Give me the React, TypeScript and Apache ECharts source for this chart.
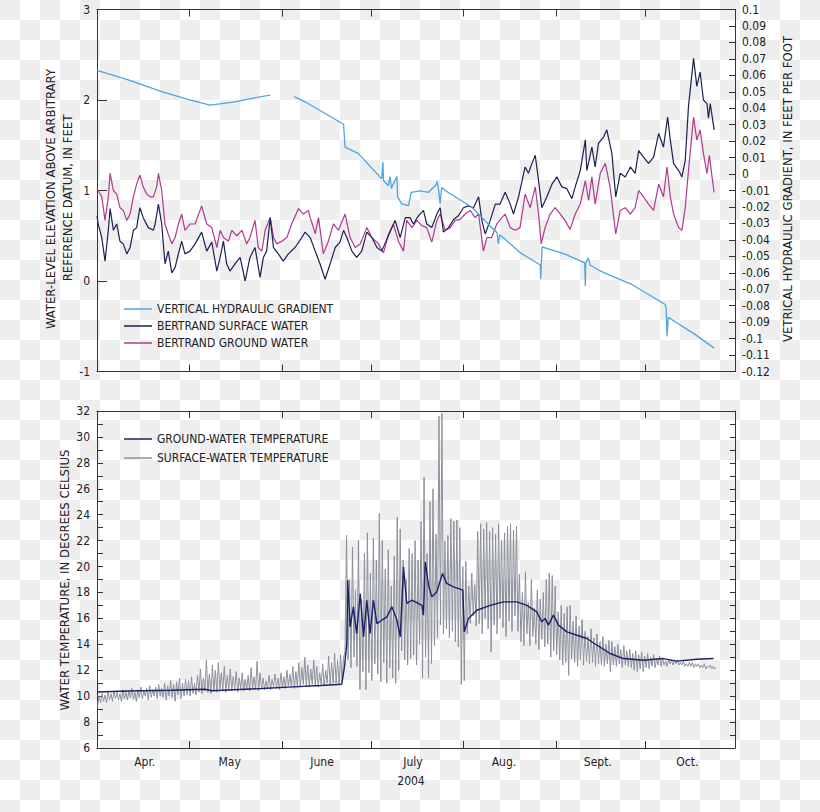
import React, { useEffect, useRef } from "react";
import * as echarts from "echarts";

const FONT = "'Liberation Sans Narrow', 'DejaVu Sans Condensed', 'Arial Narrow', Roboto, sans-serif";

// x values are days counted from 31 March 2004
const X_MIN = 0;
const X_MAX = 214;
const MONTH_TICK_DAYS = [31, 62, 92, 123, 154, 184];
const MONTH_LABEL_DAYS = [16, 44.5, 75.5, 106, 136.5, 168, 198];
const MONTH_LABELS = ["Apr.", "May", "June", "July", "Aug.", "Sept.", "Oct."];
const YEAR_LABEL = "2004";

const NAME_GRADIENT = "VERTICAL HYDRAULIC GRADIENT";
const NAME_SURFACE = "BERTRAND SURFACE WATER";
const NAME_GROUND = "BERTRAND GROUND WATER";
const NAME_GW_TEMP = "GROUND-WATER TEMPERATURE";
const NAME_SW_TEMP = "SURFACE-WATER TEMPERATURE";

// vertical hydraulic gradient, feet per foot (right axis); null = gap in record
const GRADIENT: [number, number | null][] = [
  [0, 0.063], [10.5, 0.0572], [21.7, 0.0501], [30.5, 0.0454], [37.9, 0.0419], [46.3, 0.0439],
  [51.9, 0.046], [58.1, 0.048], [62, null], [66.1, 0.047], [69.8, 0.0439], [82.7, 0.0303],
  [83.2, 0.0164], [87.7, 0.0124], [95.5, -0.0029], [95.9, 0.0073], [96.1, -0.0039], [97.7, -0.007],
  [98.3, -0.0015], [98.7, -0.0088], [100.6, -0.0015], [100.8, -0.0137], [102.2, -0.0182],
  [104.5, -0.0192], [105.4, -0.0111], [108.5, -0.0102], [111.2, -0.0111], [113.8, -0.0064],
  [114.1, -0.0045], [114.6, -0.01], [115.1, -0.018], [115.6, -0.0082], [116.8, -0.01],
  [125.7, -0.0202], [132.4, -0.0325], [134.2, -0.0357], [134.6, -0.0424], [135.1, -0.0369],
  [141.9, -0.0477], [148.7, -0.0553], [148.8, -0.0638], [149.3, -0.0443], [157.0, -0.0487],
  [163.6, -0.054], [163.8, -0.0681], [163.9, -0.0543], [164.8, -0.051], [165.4, -0.0553],
  [168.8, -0.0589], [172.7, -0.062], [179.4, -0.0671], [190.6, -0.0793], [190.9, -0.0815],
  [191.2, -0.0987], [191.6, -0.087], [200.7, -0.0976], [207.0, -0.1058],
];

// Bertrand surface water level, feet (left axis)
const SURFACE: [number, number][] = [
  [0, 0.72], [0.4, 0.63], [1.6, 0.48], [2.7, 0.22], [3.8, 0.56], [4.4, 0.8], [5.5, 0.56], [6.6, 0.63],
  [7.7, 0.44], [8.8, 0.41], [10.0, 0.3], [11.1, 0.37], [12.2, 0.56], [13.3, 0.59], [14.4, 0.81],
  [15.5, 0.7], [17.2, 0.59], [18.9, 0.56], [19.5, 0.63], [20.6, 0.85], [21.7, 0.63], [22.8, 0.19],
  [23.9, 0.33], [25.1, 0.09], [26.2, 0.15], [27.3, 0.3], [28.4, 0.44], [29.5, 0.3], [31.2, 0.33],
  [32.9, 0.41], [35.1, 0.54], [36.8, 0.33], [38.5, 0.43], [40.2, 0.11], [41.3, 0.26], [42.4, 0.44],
  [43.5, 0.19], [44.6, 0.11], [46.3, 0.19], [48.0, 0.26], [49.7, 0.0], [51.3, 0.26], [53.0, 0.37],
  [54.7, 0.04], [55.8, 0.26], [56.9, 0.33], [58.1, 0.7], [59.2, 0.37], [60.8, 0.3], [62.5, 0.22],
  [64.2, 0.3], [66.4, 0.37], [68.7, 0.48], [69.8, 0.54], [71.5, 0.48], [73.2, 0.33], [74.8, 0.19],
  [76.5, 0.02], [78.2, 0.19], [79.9, 0.37], [81.5, 0.43], [82.7, 0.56], [83.8, 0.48], [85.5, 0.33],
  [87.1, 0.26], [88.8, 0.33], [90.5, 0.54], [92.2, 0.48], [93.9, 0.37], [95.5, 0.33], [97.2, 0.46],
  [98.3, 0.54], [100.0, 0.67], [101.7, 0.48], [103.4, 0.7], [105.0, 0.7], [106.1, 0.63], [107.8, 0.72],
  [109.5, 0.78], [110.6, 0.63], [112.3, 0.59], [114.0, 0.74], [115.1, 0.81], [116.2, 0.54],
  [117.9, 0.59], [119.6, 0.68], [121.2, 0.72], [122.9, 0.81], [124.6, 0.83], [126.3, 0.81],
  [128.0, 0.93], [129.1, 0.67], [130.2, 0.52], [131.9, 0.67], [133.6, 0.85], [135.2, 0.85],
  [136.9, 0.98], [138.6, 0.85], [139.7, 0.74], [141.4, 0.93], [143.6, 1.26], [144.7, 1.19],
  [145.9, 1.3], [147.0, 1.39], [148.1, 1.11], [149.2, 0.81], [150.9, 0.93], [152.6, 1.07],
  [154.3, 1.15], [155.9, 1.04], [157.6, 1.02], [159.3, 0.91], [160.4, 1.04], [162.1, 1.22],
  [163.8, 1.56], [164.3, 1.22], [166.0, 1.48], [167.1, 1.26], [168.2, 1.52], [169.9, 1.59],
  [171.0, 1.67], [172.7, 1.41], [174.0, 0.93], [175.5, 1.19], [177.2, 1.15], [178.9, 1.26],
  [180.5, 1.19], [181.7, 1.44], [183.3, 1.37], [185.0, 1.3], [186.7, 1.37], [188.4, 1.63],
  [190.0, 1.48], [191.4, 1.81], [192.3, 1.56], [193.4, 1.3], [195.1, 1.22], [196.2, 1.15],
  [197.3, 1.33], [198.4, 1.93], [200.1, 2.46], [201.2, 2.15], [202.3, 2.31], [203.4, 2.0],
  [204.6, 1.96], [205.1, 1.8], [205.7, 1.96], [207.0, 1.67],
];

// Bertrand ground water level, feet (left axis)
const GROUND: [number, number][] = [
  [0, 1.02], [1.6, 0.93], [2.7, 0.67], [3.8, 0.93], [4.4, 1.19], [5.5, 1.0], [6.6, 0.96], [7.7, 0.81],
  [8.8, 0.78], [10.0, 0.67], [11.1, 0.74], [12.2, 0.93], [13.3, 1.07], [14.4, 1.17], [15.5, 1.04],
  [16.7, 0.96], [17.8, 0.93], [18.9, 0.93], [20.0, 1.04], [20.6, 1.19], [21.7, 1.0], [22.8, 0.63],
  [23.9, 0.52], [25.1, 0.41], [26.2, 0.48], [27.3, 0.63], [28.4, 0.74], [29.5, 0.56], [31.2, 0.63],
  [32.9, 0.63], [35.1, 0.83], [36.8, 0.63], [38.5, 0.59], [40.2, 0.37], [41.3, 0.56], [42.4, 0.48],
  [44.1, 0.44], [45.2, 0.56], [46.9, 0.5], [48.6, 0.56], [50.2, 0.41], [51.3, 0.48], [53.0, 0.67],
  [54.1, 0.37], [55.3, 0.33], [56.4, 0.56], [58.1, 0.7], [59.2, 0.48], [60.3, 0.41], [62.0, 0.44],
  [63.7, 0.48], [65.3, 0.63], [67.6, 0.8], [69.2, 0.74], [70.9, 0.78], [71.5, 0.7], [72.5, 0.6],
  [73.2, 0.52], [74.3, 0.7], [75.9, 0.3], [77.6, 0.44], [79.3, 0.63], [81.0, 0.56], [83.2, 0.74],
  [84.9, 0.48], [86.6, 0.37], [88.3, 0.41], [90.5, 0.59], [92.2, 0.48], [94.4, 0.41], [96.1, 0.31],
  [97.8, 0.52], [99.4, 0.63], [101.1, 0.44], [102.8, 0.33], [103.9, 0.67], [105.6, 0.59],
  [107.3, 0.67], [109.0, 0.61], [110.6, 0.59], [112.3, 0.43], [114.0, 0.67], [115.1, 0.74],
  [116.8, 0.56], [118.5, 0.59], [120.1, 0.67], [121.8, 0.68], [123.5, 0.74], [125.2, 0.78],
  [126.8, 0.7], [128.0, 0.74], [129.6, 0.33], [130.8, 0.48], [132.4, 0.48], [134.1, 0.63],
  [135.8, 0.7], [136.9, 0.74], [138.6, 0.59], [140.3, 0.56], [141.9, 0.59], [143.6, 0.96],
  [145.3, 0.81], [147.0, 1.04], [148.1, 0.74], [149.0, 0.41], [150.3, 0.59], [152.0, 0.74],
  [153.7, 0.81], [155.4, 0.74], [157.0, 0.67], [158.7, 0.57], [160.4, 0.74], [162.1, 0.85],
  [163.8, 1.11], [164.9, 0.89], [166.0, 1.15], [167.1, 0.85], [168.8, 1.19], [170.5, 1.3],
  [172.1, 1.04], [174.0, 0.52], [175.5, 0.78], [177.2, 0.81], [178.9, 0.74], [180.5, 0.81],
  [181.7, 1.0], [183.3, 0.93], [185.0, 0.85], [186.7, 0.78], [188.4, 1.07], [190.0, 0.93],
  [191.2, 1.26], [192.3, 0.93], [193.4, 0.74], [195.1, 0.59], [196.2, 0.56], [197.3, 0.81],
  [198.4, 1.22], [200.1, 1.81], [201.2, 1.56], [202.3, 1.67], [203.4, 1.41], [204.6, 1.19],
  [205.4, 1.39], [206.3, 1.15], [207.0, 0.98],
];

// ground-water temperature, degrees Celsius
const GW_TEMP: [number, number][] = [
  [0, 10.32], [10.5, 10.4], [25, 10.45], [36.2, 10.53], [38.5, 10.42], [55.3, 10.59], [64.2, 10.7],
  [75, 10.82], [82.1, 10.92], [83.0, 12.25], [83.8, 14.06], [84.1, 18.95], [84.9, 15.34],
  [86.0, 16.89], [87.1, 14.83], [88.3, 17.92], [89.4, 14.57], [90.5, 17.4], [91.6, 14.83],
  [92.7, 17.4], [93.9, 15.6], [95.5, 15.86], [97.2, 16.1], [98.9, 16.9], [100.6, 15.86],
  [101.7, 14.57], [102.8, 19.97], [103.9, 17.15], [105.6, 17.4], [109.0, 17.0], [109.5, 16.25],
  [110.1, 20.36], [111.2, 18.56], [112.3, 17.66], [114.0, 18.05], [115.9, 19.47], [117.3, 18.7],
  [119.6, 18.43], [122.7, 18.18], [123.2, 14.96], [124.6, 16.0], [127.4, 16.63], [131.9, 17.0],
  [136.3, 17.27], [140.8, 17.27], [144.2, 17.0], [147.5, 16.5], [149.2, 15.73], [150.3, 16.0],
  [151.4, 15.48], [153.1, 16.25], [154.8, 15.48], [157.6, 14.96], [161.0, 14.7], [164.3, 14.45],
  [167.7, 13.93], [172.1, 13.29], [176.6, 12.9], [183.3, 12.77], [190.0, 12.9], [194.5, 12.7],
  [201.2, 12.85], [206.8, 12.9],
];

// surface-water temperature: daily maximum and minimum, one value per day from day 0
const SW_TEMP_MAX = [
  10.0, 10.2, 10.1, 10.3, 10.2, 10.4, 10.3, 10.2, 10.5, 10.3,
  10.4, 10.6, 10.3, 10.5, 10.7, 10.4, 10.6, 10.8, 10.5, 10.7,
  10.9, 10.6, 11.0, 10.8, 11.2, 10.9, 11.1, 11.4, 11.0, 11.3,
  11.2, 11.5, 11.0, 11.6, 12.1, 11.4, 12.8, 11.7, 12.4, 12.0,
  12.6, 11.8, 12.3, 11.6, 12.1, 11.5, 11.9, 11.4, 11.8, 11.3,
  11.6, 12.2, 11.5, 12.7, 11.8, 11.4, 11.2, 11.6, 11.3, 11.7,
  11.4, 11.8, 11.5, 12.0, 11.7, 12.3, 11.9, 12.6, 12.2, 13.0,
  12.4, 12.1, 12.8, 12.3, 11.8, 12.5, 12.0, 13.1, 12.6, 13.3,
  12.8, 13.2, 12.9, 22.4, 19.0, 21.5, 18.2, 22.0, 17.5, 21.0,
  22.6, 19.5, 22.2, 20.5, 24.1, 22.0, 19.8, 21.3, 18.5, 20.8,
  23.8, 22.9, 20.5, 19.0, 21.4, 21.0, 22.0, 20.5, 23.5, 26.9,
  21.0, 25.0, 26.0, 22.5, 31.6, 31.8, 22.0, 22.4, 23.7, 23.5,
  23.6, 23.0, 20.0, 20.4, 18.5, 19.5, 18.6, 22.7, 23.3, 22.9,
  23.4, 22.7, 23.0, 22.5, 23.3, 22.0, 22.6, 23.1, 23.3, 22.8,
  23.1, 19.4, 18.0, 19.6, 17.2, 19.0, 16.8, 18.2, 17.5, 18.0,
  19.0, 19.5, 19.3, 18.5, 16.5, 17.0, 16.4, 16.9, 17.0, 15.8,
  16.2, 15.4, 15.9, 15.0, 14.6, 15.2, 14.5, 14.8, 14.2, 14.6,
  14.0, 14.3, 14.2, 13.8, 14.0, 13.6, 13.9, 13.5, 13.6, 13.3,
  13.5, 13.2, 13.4, 13.1, 13.3, 13.0, 13.2, 12.9, 13.1, 12.9,
  12.7, 12.8, 12.8, 12.7, 12.8, 12.6, 12.7, 12.5, 12.6, 12.6,
  12.5, 12.5, 12.4, 12.5, 12.3, 12.4, 12.3, 12.2,
];
const SW_TEMP_MIN = [
  9.2, 9.5, 9.6, 9.5, 9.7, 9.6, 9.8, 9.7, 9.6, 9.8,
  9.7, 9.9, 9.8, 9.6, 9.9, 9.8, 10.0, 9.7, 9.9, 10.0,
  9.8, 10.0, 9.9, 9.7, 10.0, 9.9, 9.6, 10.1, 9.8, 10.0,
  10.1, 10.0, 10.2, 10.1, 10.3, 10.2, 10.4, 10.3, 10.2, 10.4,
  10.3, 10.5, 10.4, 10.3, 10.5, 10.4, 10.5, 10.3, 10.5, 10.4,
  10.5, 10.4, 10.6, 10.5, 10.4, 10.6, 10.5, 10.6, 10.5, 10.7,
  10.6, 10.5, 10.7, 10.6, 10.8, 10.7, 10.6, 10.8, 10.7, 10.9,
  10.8, 10.7, 10.9, 10.8, 10.7, 10.9, 10.8, 11.0, 10.9, 11.0,
  11.0, 10.9, 11.1, 13.5, 12.8, 12.2, 13.0, 12.3, 10.5, 11.9,
  10.5, 11.8, 11.2, 12.5, 11.7, 11.1, 12.6, 11.0, 12.2, 11.4,
  11.0, 12.0, 13.5, 12.8, 12.4, 12.9, 13.2, 12.4, 14.0, 11.4,
  13.0, 11.4, 12.5, 13.9, 14.5, 15.5, 14.8, 15.2, 14.5, 15.0,
  14.2, 13.8, 10.9, 11.2, 14.8, 15.6, 16.2, 15.4, 15.6, 14.8,
  16.0, 15.2, 13.4, 15.5, 14.8, 16.0, 15.3, 14.6, 15.8, 15.0,
  16.2, 15.0, 14.2, 13.9, 14.8, 13.9, 14.6, 14.0, 13.6, 14.4,
  13.8, 14.0, 13.0, 13.5, 13.2, 12.8, 12.4, 12.6, 11.6, 12.9,
  12.6, 12.3, 12.8, 12.4, 12.7, 12.5, 12.6, 12.3, 12.5, 12.4,
  12.3, 12.5, 11.9, 12.4, 12.3, 12.5, 12.2, 12.4, 12.3, 12.2,
  12.0, 11.9, 12.1, 11.9, 12.2, 12.1, 12.3, 12.2, 12.4, 12.3,
  12.4, 12.3, 12.5, 12.4, 12.5, 12.4, 12.4, 12.3, 12.3, 12.3,
  12.2, 12.3, 12.2, 12.2, 12.1, 12.2, 12.1, 12.1,
];

const C_AXIS = "#333333";
const C_TEXT = "#222222";
const C_GRADIENT = "#4ea4e0";
const C_SURFACE = "#1d2152";
const C_GROUND = "#b03a8e";
const C_GW_TEMP = "#1b2068";
const C_SW_TEMP = "#8d909b";

function buildSurfaceTemp(): [number, number][] {
  const out: [number, number][] = [];
  for (let i = 0; i < SW_TEMP_MAX.length; i++) {
    out.push([i + 0.2, SW_TEMP_MIN[i]]);
    out.push([i + 0.7, SW_TEMP_MAX[i]]);
  }
  return out;
}

function xAxisBase(gridIndex: number, position: "top" | "bottom", labels: boolean) {
  return {
    type: "value",
    gridIndex,
    position,
    min: X_MIN,
    max: X_MAX,
    axisLine: { show: true, onZero: false, lineStyle: { color: C_AXIS, width: 1 } },
    axisTick: {
      show: true,
      inside: true,
      length: 7,
      customValues: MONTH_TICK_DAYS,
      lineStyle: { color: C_AXIS, width: 1 },
    },
    axisLabel: labels
      ? {
          show: true,
          customValues: MONTH_LABEL_DAYS,
          margin: 8,
          color: C_TEXT,
          fontFamily: FONT,
          fontSize: 12,
          formatter: (v: number) => {
            const i = MONTH_LABEL_DAYS.indexOf(v);
            return i >= 0 ? MONTH_LABELS[i] : "";
          },
        }
      : { show: false },
    splitLine: { show: false },
  };
}

export default function App() {
  const ref = useRef<HTMLDivElement>(null);
  useEffect(() => {
    if (!ref.current) return;
    const chart = echarts.init(ref.current, undefined, { renderer: "svg" });
    const titleStyle = { fontFamily: FONT, fontSize: 13, fill: C_TEXT };
    chart.setOption({
      animation: false,
      backgroundColor: "transparent",
      grid: [
        { left: 97, top: 9.5, width: 638, height: 362 },
        { left: 97, top: 411, width: 638, height: 337 },
      ],
      xAxis: [
        xAxisBase(0, "bottom", false),
        xAxisBase(0, "top", false),
        xAxisBase(1, "bottom", true),
        xAxisBase(1, "top", false),
      ],
      yAxis: [
        {
          type: "value",
          gridIndex: 0,
          position: "left",
          min: -1,
          max: 3,
          interval: 1,
          axisLine: { show: true, onZero: false, lineStyle: { color: C_AXIS } },
          axisTick: { show: true, inside: true, length: 10, lineStyle: { color: C_AXIS } },
          axisLabel: { color: C_TEXT, fontFamily: FONT, fontSize: 12, margin: 7 },
          splitLine: { show: false },
        },
        {
          type: "value",
          gridIndex: 0,
          position: "right",
          min: -0.12,
          max: 0.1,
          interval: 0.01,
          axisLine: { show: true, onZero: false, lineStyle: { color: C_AXIS } },
          axisTick: { show: true, inside: true, length: 6, lineStyle: { color: C_AXIS } },
          axisLabel: {
            color: C_TEXT,
            fontFamily: FONT,
            fontSize: 12,
            margin: 7,
            formatter: (v: number) => String(Math.round(v * 100) / 100 || 0),
          },
          splitLine: { show: false },
        },
        {
          type: "value",
          gridIndex: 1,
          position: "left",
          min: 6,
          max: 32,
          interval: 1,
          axisLine: { show: true, onZero: false, lineStyle: { color: C_AXIS } },
          axisTick: { show: true, inside: true, length: 6, lineStyle: { color: C_AXIS } },
          axisLabel: {
            color: C_TEXT,
            fontFamily: FONT,
            fontSize: 12,
            margin: 7,
            formatter: (v: number) => (Math.round(v) % 2 === 0 ? String(Math.round(v)) : ""),
          },
          splitLine: { show: false },
        },
        {
          type: "value",
          gridIndex: 1,
          position: "right",
          min: 6,
          max: 32,
          interval: 1,
          axisLine: { show: true, onZero: false, lineStyle: { color: C_AXIS } },
          axisTick: { show: true, inside: true, length: 5, lineStyle: { color: C_AXIS } },
          axisLabel: { show: false },
          splitLine: { show: false },
        },
      ],
      legend: [
        {
          left: 124,
          top: 303,
          padding: 0,
          orient: "vertical",
          icon: "rect",
          itemWidth: 28,
          itemHeight: 1.5,
          itemGap: 5,
          selectedMode: false,
          data: [NAME_GRADIENT, NAME_SURFACE, NAME_GROUND],
          textStyle: { fontFamily: FONT, fontSize: 12, color: C_TEXT },
        },
        {
          left: 124,
          top: 433,
          padding: 0,
          orient: "vertical",
          icon: "rect",
          itemWidth: 28,
          itemHeight: 1.5,
          itemGap: 7,
          selectedMode: false,
          data: [NAME_GW_TEMP, NAME_SW_TEMP],
          textStyle: { fontFamily: FONT, fontSize: 12, color: C_TEXT },
        },
      ],
      series: [
        {
          name: NAME_GROUND,
          type: "line",
          xAxisIndex: 0,
          yAxisIndex: 0,
          data: GROUND,
          showSymbol: false,
          color: C_GROUND,
          lineStyle: { width: 1.2, color: C_GROUND },
        },
        {
          name: NAME_SURFACE,
          type: "line",
          xAxisIndex: 0,
          yAxisIndex: 0,
          data: SURFACE,
          showSymbol: false,
          color: C_SURFACE,
          lineStyle: { width: 1.2, color: C_SURFACE },
        },
        {
          name: NAME_GRADIENT,
          type: "line",
          xAxisIndex: 0,
          yAxisIndex: 1,
          data: GRADIENT,
          showSymbol: false,
          connectNulls: false,
          color: C_GRADIENT,
          lineStyle: { width: 1.3, color: C_GRADIENT },
        },
        {
          name: NAME_SW_TEMP,
          type: "line",
          xAxisIndex: 2,
          yAxisIndex: 2,
          data: buildSurfaceTemp(),
          showSymbol: false,
          color: C_SW_TEMP,
          lineStyle: { width: 1, color: C_SW_TEMP },
        },
        {
          name: NAME_GW_TEMP,
          type: "line",
          xAxisIndex: 2,
          yAxisIndex: 2,
          data: GW_TEMP,
          showSymbol: false,
          color: C_GW_TEMP,
          lineStyle: { width: 1.4, color: C_GW_TEMP },
        },
      ],
      graphic: [
        {
          type: "text",
          x: 50,
          y: 199,
          rotation: Math.PI / 2,
          style: { ...titleStyle, text: "WATER-LEVEL ELEVATION ABOVE ARBITRARY", align: "center", verticalAlign: "middle" },
        },
        {
          type: "text",
          x: 67,
          y: 198,
          rotation: Math.PI / 2,
          style: { ...titleStyle, text: "REFERENCE DATUM, IN FEET", align: "center", verticalAlign: "middle" },
        },
        {
          type: "text",
          x: 787,
          y: 189,
          rotation: Math.PI / 2,
          style: { ...titleStyle, text: "VETRICAL HYDRAULIC GRADIENT, IN FEET PER FOOT", align: "center", verticalAlign: "middle" },
        },
        {
          type: "text",
          x: 64,
          y: 580,
          rotation: Math.PI / 2,
          style: { ...titleStyle, text: "WATER TEMPERATURE, IN DEGREES CELSIUS", align: "center", verticalAlign: "middle" },
        },
        {
          type: "text",
          x: 411,
          y: 781,
          style: { fontFamily: FONT, fontSize: 12, fill: C_TEXT, text: YEAR_LABEL, align: "center", verticalAlign: "middle" },
        },
      ],
    });
    return () => chart.dispose();
  }, []);

  return (
    <div
      style={{
        position: "absolute",
        left: 0,
        top: 0,
        width: 820,
        height: 812,
        backgroundImage: "conic-gradient(#fff 0 25%, #eeeeee 0 50%, #fff 0 75%, #eeeeee 0)",
        backgroundSize: "40px 40px",
      }}
    >
      <div ref={ref} style={{ width: 820, height: 812 }} />
    </div>
  );
}
